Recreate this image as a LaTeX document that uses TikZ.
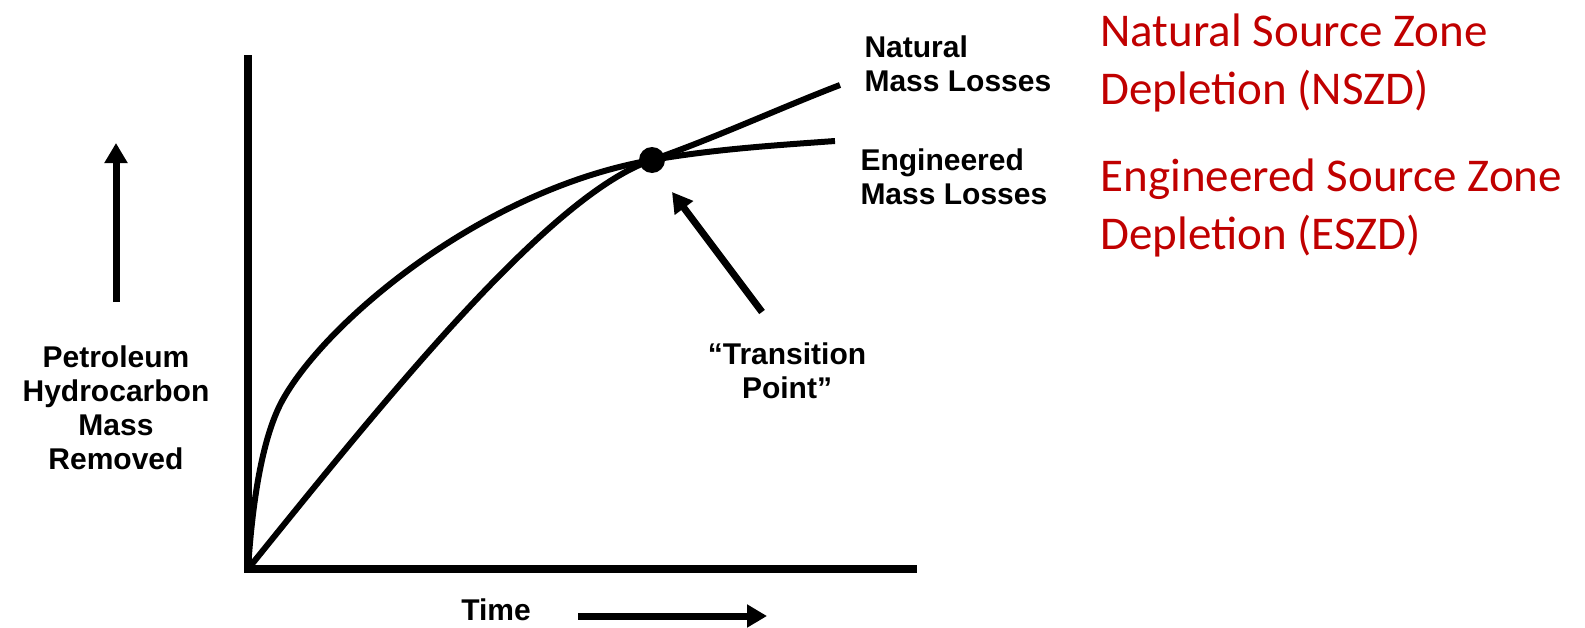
\documentclass[tikz,border=0pt]{standalone}
\usepackage{fontspec}
\setmainfont{Liberation Sans}
\newfontfamily\calibrifont{Carlito}
\usetikzlibrary{arrows.meta}
\definecolor{depred}{RGB}{192,0,0}

\tikzset{every picture/.style={line width=0.75pt}}
\tikzset{
	axis/.style={line width=6pt, line join=miter},
	curve/.style={line width=4.5pt},
	pointer/.style={line width=5.25pt, -{Triangle[length=15pt,width=16.5pt]}},
	lbl/.style={inner sep=0pt, font=\fontsize{22.5}{25.5}\selectfont\bfseries},
	redlbl/.style={inner sep=0pt, text=depred, align=left, font=\calibrifont\fontsize{35.25}{43.5}\selectfont},
	dot/.style={circle, fill=black, inner sep=0pt, minimum size=19.5pt}
}

\begin{document}
\begin{tikzpicture}[x=0.75pt,y=0.75pt,yscale=-1,xscale=1]
		\useasboundingbox (0,0) rectangle (1585,628);
		
		%Axes
		\coordinate (O) at (248,569);
		\coordinate (ytop) at (248,55);
		\coordinate (xend) at (917,569);
		\draw [axis] (ytop) -- (O) -- (xend);
		
		%Curves
		\coordinate (T) at (652,160);
		\coordinate (natend) at (840,85);
		\coordinate (engend) at (835,141);
		\coordinate (engknee) at (281,403);
		%natural losses
		\draw [curve] (O) .. controls (390,393) and (550,195) .. (T) .. controls (715,138) and (780,108) .. (natend);
		%engineered losses
		\draw [curve] (O) .. controls (253,492) and (264,436) .. (engknee) .. controls (322,325) and (480,190) .. (T) .. controls (715,149) and (780,145) .. (engend);
		\node [dot] (tp) at (T) {};
		
		%Arrows
		\coordinate (mrtail) at (116,302);
		\coordinate (mrhead) at (116,143);
		\draw [pointer] (mrtail) -- (mrhead);
		\coordinate (timetail) at (578,616);
		\coordinate (timehead) at (767,616);
		\draw [pointer] (timetail) -- (timehead);
		\coordinate (tptail) at (762,312);
		\coordinate (tphead) at (672,192);
		\draw [pointer] (tptail) -- (tphead);
		
		%Labels
		\node [lbl, align=center, anchor=north] (mass) at (116,345) {Petroleum\\Hydrocarbon\\Mass\\Removed};
		\node [lbl, anchor=base] (time) at (496,620) {Time};
		\node [lbl, align=center, anchor=north] (trans) at (787,342) {``Transition\\Point''};
		\node [lbl, align=left, anchor=north west] (natlbl) at (864,35) {Natural\\Mass Losses};
		\node [lbl, align=left, anchor=north west] (englbl) at (860,148) {Engineered\\Mass Losses};
		
		\node [redlbl, anchor=north west] (nszd) at (1100,13) {Natural Source Zone\\Depletion (NSZD)};
		\node [redlbl, anchor=north west] (eszd) at (1100,158) {Engineered Source Zone\\Depletion (ESZD)};
		
	\end{tikzpicture}
\end{document}
